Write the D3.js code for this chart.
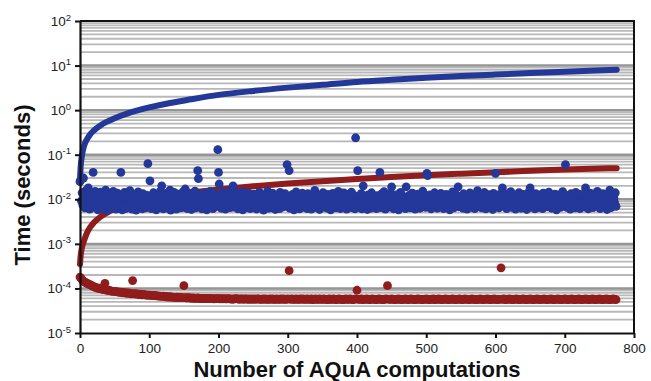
<!DOCTYPE html>
<html>
<head>
<meta charset="utf-8">
<script src="https://cdn.jsdelivr.net/npm/d3@7"></script>
<style>
  body { margin: 0; background: #fff; }
  svg { display: block; font-family: "Liberation Sans", Arial, sans-serif; }
</style>
</head>
<body>
<svg id="chart" width="651" height="381"></svg>
<script>
// x axis ticks and y decades
const xTicks = [0, 100, 200, 300, 400, 500, 600, 700, 800];
const yExponents = [-5, -4, -3, -2, -1, 0, 1, 2];

// per-computation time of the slow method, in units of 1e-4 s (index = computation number)
const blueScatter = [
  250,270,92,140,75,300,118,64,155,88,102,70,180,96,60,125,84,140,72,400,110,66,150,93,78,
  130,58,97,115,68,145,82,104,62,120,90,74,160,99,56,86,112,70,135,94,63,108,80,150,67,
  92,117,60,84,138,73,100,65,126,400,88,58,110,77,142,95,62,104,81,122,69,90,156,72,99,
  60,113,85,70,128,94,57,106,79,146,66,98,118,74,89,61,133,102,71,92,64,124,86,630,108,
  75,260,97,62,115,83,140,68,103,90,58,127,79,110,65,94,150,72,200,88,61,119,96,70,135,
  84,63,108,91,74,160,57,99,121,67,87,143,76,104,60,116,93,70,130,81,64,112,98,73,148,
  66,95,170,80,118,62,101,87,137,71,92,59,124,106,75,89,152,64,110,83,440,290,69,98,120,
  77,61,114,94,139,70,86,105,58,127,82,96,66,150,90,73,118,62,101,85,132,68,109,93,1300,
  400,220,79,117,63,98,142,74,88,106,60,125,91,70,112,84,155,65,99,78,120,200,67,103,87,
  136,72,95,61,114,83,100,69,148,90,58,109,76,128,94,64,117,81,140,71,97,62,123,86,105,
  68,131,89,74,102,60,118,93,79,145,66,99,112,73,87,57,126,95,70,108,84,152,63,100,77,
  115,64,92,137,71,104,83,59,121,96,75,110,88,62,143,79,98,67,119,85,73,134,91,69,600,
  102,80,440,63,116,94,72,129,86,58,107,99,147,68,89,122,75,61,111,92,81,138,66,97,84,
  119,70,101,62,133,88,76,114,95,60,126,83,104,72,158,90,65,109,78,124,93,59,116,87,71,
  98,141,67,85,111,74,93,63,128,102,80,118,58,96,89,135,70,106,77,121,64,100,86,150,73,
  91,62,117,84,104,69,139,95,76,112,60,98,127,82,71,107,65,145,88,96,73,121,61,2400,103,
  85,440,66,113,90,75,134,61,97,200,81,118,68,102,92,59,125,87,74,109,63,140,94,79,115,
  70,103,88,62,121,96,76,110,400,65,131,84,99,72,148,90,60,114,86,77,119,67,105,93,138,
  190,74,97,61,116,83,102,69,127,91,58,108,80,143,95,66,119,73,88,104,62,190,85,112,71,
  99,124,64,92,78,137,68,106,87,60,118,95,74,131,82,101,63,115,89,70,153,76,97,110,66,
  84,380,340,103,72,125,91,61,114,80,98,69,140,93,75,107,63,122,86,100,70,135,79,95,117,
  62,105,88,74,129,96,67,112,83,58,120,94,76,146,87,64,109,99,72,124,81,190,68,102,91,
  115,70,97,63,133,85,104,77,121,60,93,110,73,139,89,66,117,95,80,102,62,128,87,74,156,
  92,68,108,81,123,64,99,114,75,142,86,61,106,94,72,127,83,101,67,118,90,59,135,97,78,
  380,104,71,89,126,64,97,112,76,137,180,83,102,69,119,92,62,130,87,75,108,95,149,66,99,
  81,116,73,93,60,124,88,105,70,141,84,97,63,113,91,77,128,68,100,86,59,119,95,74,152,
  180,66,103,87,120,72,96,61,134,90,79,109,65,126,98,74,115,84,62,138,93,71,104,89,122,
  68,97,145,76,110,85,63,118,92,101,70,131,80,58,112,95,74,125,87,66,107,99,148,73,90,
  115,600,84,66,103,122,77,94,60,133,88,107,72,119,91,64,143,82,98,75,110,86,62,128,96,
  73,105,89,129,67,180,94,78,116,61,101,87,137,70,97,112,65,123,84,92,74,108,150,79,95,
  86,62,117,97,72,134,81,104,68,125,90,59,112,95,76,160,88,65,121,99,73,107,84,140,69
];

// per-computation time of the fast method, in units of 1e-6 s, every second computation
const redStep = 2;
const redScatter = [
  180,165,150,140,136,130,127,122,118,112,110,106,104,100,101,98,96,94,130,92,90,91,88,87,86,
  86,85,84,83,82,81,80,80,79,78,79,77,76,150,76,75,75,74,73,74,72,73,72,71,71,
  71,70,70,69,70,68,68,67,67,66,67,66,65,65,64,65,64,64,63,63,64,62,63,62,62,
  115,62,61,62,61,61,60,61,60,60,61,60,59,60,60,59,60,59,59,60,59,59,58,59,59,
  59,58,59,58,59,58,58,59,58,58,57,58,58,59,58,57,58,58,57,58,58,57,58,57,58,
  57,58,57,58,58,57,57,58,57,58,57,57,58,57,58,57,57,58,57,57,58,57,58,57,57,
  58,250,57,58,57,57,58,57,57,58,57,58,57,57,58,57,57,58,56,57,58,57,57,58,57,
  57,58,57,57,56,58,57,57,58,57,56,57,58,57,57,56,57,58,57,57,58,57,56,57,58,
  91,57,57,58,56,57,57,58,57,56,57,58,57,57,56,57,58,57,57,56,57,58,115,57,57,
  58,57,56,57,57,58,57,56,57,57,58,57,56,57,58,57,57,56,57,58,57,57,56,57,57,
  58,57,56,57,57,58,56,57,57,58,57,56,57,57,58,57,56,57,57,58,57,56,57,57,58,
  57,56,57,58,57,57,56,57,58,57,57,56,57,57,58,57,56,57,57,58,57,56,57,57,58,
  57,56,57,57,290,57,58,56,57,57,58,57,56,57,57,58,57,56,57,57,58,57,56,57,57,
  58,57,56,57,57,58,57,56,57,57,58,57,56,57,57,58,57,56,57,57,58,57,56,57,57,
  58,57,56,57,57,58,57,56,57,57,58,57,56,57,57,58,57,56,57,57,58,57,56,57,57,
  58,57,56,57,57,58,57,56,57,57,58,57,56
];

// cumulative time curves (seconds)
const blueLineN = [0, 1, 3, 6, 10, 15, 20, 30, 40, 50, 70, 100, 130, 160, 200, 250, 300, 350, 400, 450, 500, 550, 600, 650, 700, 775];
const blueLineT = [0.028, 0.055, 0.1, 0.16, 0.22, 0.29, 0.35, 0.46, 0.56, 0.66, 0.86, 1.15, 1.45, 1.75, 2.2, 2.7, 3.2, 3.7, 4.3, 4.8, 5.3, 5.8, 6.3, 6.8, 7.3, 8.1];
const redLineN = [0, 1, 3, 6, 10, 15, 20, 30, 40, 50, 70, 100, 130, 160, 200, 250, 300, 350, 400, 450, 500, 550, 600, 650, 700, 775];
const redLineT = [3.5e-4, 5.5e-4, 8.5e-4, 1.2e-3, 1.75e-3, 2.4e-3, 3e-3, 4.1e-3, 5.1e-3, 6e-3, 7.7e-3, 0.01, 0.012, 0.014, 0.0165, 0.0195, 0.0225, 0.0255, 0.0285, 0.0315, 0.0345, 0.0375, 0.0405, 0.0435, 0.0465, 0.05];

const blue = '#24389a';
const red = '#911c1c';

const plotLeft = 80, plotRight = 634, plotTop = 21, plotBottom = 333;

const svg = d3.select('#chart');

const x = d3.scaleLinear().domain([0, 800]).range([plotLeft, plotRight]);
const y = d3.scaleLog().domain([1e-5, 1e2]).range([plotBottom, plotTop]);

// minor log gridlines
const minor = [];
yExponents.slice(0, -1).forEach(e => {
  for (let k = 2; k <= 9; k++) minor.push(k * Math.pow(10, e));
});
svg.append('g')
  .selectAll('line')
  .data(minor)
  .enter().append('line')
  .attr('x1', plotLeft).attr('x2', plotRight)
  .attr('y1', d => y(d)).attr('y2', d => y(d))
  .attr('stroke', '#b8b8b8')
  .attr('stroke-width', 1.8);

svg.append('g')
  .selectAll('line')
  .data(yExponents.slice(1, -1))
  .enter().append('line')
  .attr('x1', plotLeft).attr('x2', plotRight)
  .attr('y1', e => y(Math.pow(10, e))).attr('y2', e => y(Math.pow(10, e)))
  .attr('stroke', '#959595')
  .attr('stroke-width', 2.4);

const curve = d3.line().curve(d3.curveMonotoneX);

// red cumulative line
svg.append('path')
  .attr('d', curve(redLineN.map((n, i) => [x(n), y(redLineT[i])])))
  .attr('fill', 'none')
  .attr('stroke', red)
  .attr('stroke-width', 6)
  .attr('stroke-linecap', 'round');

svg.append('g')
  .selectAll('circle')
  .data(redScatter)
  .enter().append('circle')
  .attr('cx', (v, i) => x(i * redStep))
  .attr('cy', v => y(v * 1e-6))
  .attr('r', 4.4)
  .attr('fill', red);

svg.append('path')
  .attr('d', curve(blueLineN.map((n, i) => [x(n), y(blueLineT[i])])))
  .attr('fill', 'none')
  .attr('stroke', blue)
  .attr('stroke-width', 6)
  .attr('stroke-linecap', 'round');

svg.append('g')
  .selectAll('circle')
  .data(blueScatter)
  .enter().append('circle')
  .attr('cx', (v, i) => x(i))
  .attr('cy', v => y(v * 1e-4))
  .attr('r', 4.4)
  .attr('fill', blue);

// frame: top and right border
svg.append('path')
  .attr('d', `M${plotLeft},${plotTop}H${plotRight}V${plotBottom}`)
  .attr('fill', 'none')
  .attr('stroke', '#111')
  .attr('stroke-width', 2);

// axes
const xAxis = svg.append('g')
  .attr('transform', `translate(0,${plotBottom})`)
  .call(d3.axisBottom(x).tickValues(xTicks).tickSize(5).tickSizeOuter(0).tickPadding(5));
xAxis.selectAll('text').style('font-size', '13.5px').attr('fill', '#222');

const yAxis = svg.append('g')
  .attr('transform', `translate(${plotLeft},0)`)
  .call(d3.axisLeft(y).tickValues(yExponents.map(e => Math.pow(10, e))).tickSize(5).tickSizeOuter(0).tickFormat(''));

[xAxis, yAxis].forEach(a => {
  a.select('.domain').attr('stroke', '#111').attr('stroke-width', 2.2);
  a.selectAll('.tick line').attr('stroke', '#111').attr('stroke-width', 2);
});

const yLabels = svg.append('g')
  .selectAll('text')
  .data(yExponents)
  .enter().append('text')
  .attr('x', plotLeft - 9)
  .attr('y', e => y(Math.pow(10, e)) + 5)
  .attr('text-anchor', 'end')
  .attr('fill', '#222')
  .style('font-size', '13.5px');
yLabels.append('tspan').text('10');
yLabels.append('tspan')
  .attr('dy', -5.5)
  .style('font-size', '9.5px')
  .text(e => String(e));

svg.append('text')
  .attr('x', (plotLeft + plotRight) / 2)
  .attr('y', 377)
  .attr('text-anchor', 'middle')
  .style('font-size', '22px')
  .style('font-weight', 'bold')
  .attr('fill', '#111')
  .text('Number of AQuA computations');

svg.append('text')
  .attr('transform', 'translate(30,185) rotate(-90)')
  .attr('text-anchor', 'middle')
  .style('font-size', '22px')
  .style('font-weight', 'bold')
  .attr('fill', '#111')
  .text('Time (seconds)');
</script>
</body>
</html>
